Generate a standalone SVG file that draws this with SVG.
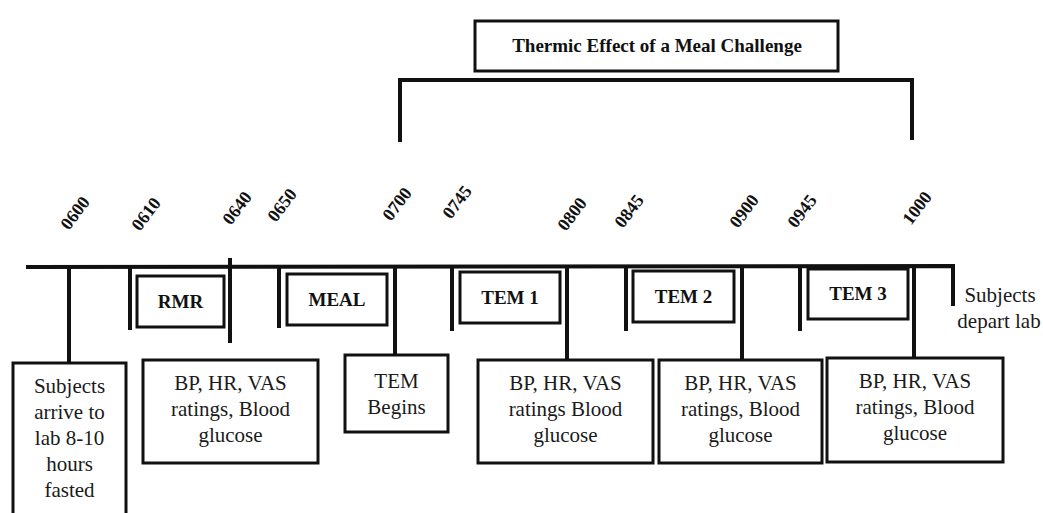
<svg xmlns="http://www.w3.org/2000/svg" width="1043" height="513" viewBox="0 0 1043 513">
<style>
.bx{fill:#fff;stroke:#111;stroke-width:3}
.ln{fill:none;stroke:#111;stroke-width:4}
text{font-family:'Liberation Serif','DejaVu Serif',serif}
.t{font-size:21px;fill:#1a1a1a;text-anchor:middle}
.b{font-weight:bold;font-size:19px;fill:#111;text-anchor:middle}
.tm{font-weight:bold;font-size:18px;fill:#111;text-anchor:middle}
</style>
<rect width="1043" height="513" fill="#fff"/>
<g id="title">
<rect class="bx" x="475" y="21" width="363" height="50"/>
<text class="b" x="657" y="52" font-size="21">Thermic Effect of a Meal Challenge</text>
</g>
<g id="connectors">
<polyline class="ln" points="400,142 400,80 912,80 912,140"/>
<polyline class="ln" points="26,267 953,266 953,306"/>
<line class="ln" x1="69" y1="267" x2="69" y2="363"/>
<line class="ln" x1="130" y1="267" x2="130" y2="330"/>
<line class="ln" x1="230" y1="258" x2="230" y2="343"/>
<line class="ln" x1="279" y1="267" x2="279" y2="328"/>
<line class="ln" x1="395" y1="267" x2="395" y2="355"/>
<line class="ln" x1="452" y1="267" x2="452" y2="331"/>
<line class="ln" x1="567" y1="267" x2="567" y2="360"/>
<line class="ln" x1="626" y1="267" x2="626" y2="331"/>
<line class="ln" x1="742" y1="267" x2="742" y2="360"/>
<line class="ln" x1="800" y1="267" x2="800" y2="331"/>
<line class="ln" x1="914" y1="267" x2="914" y2="358"/>
</g>
<g id="times">
<text class="tm" transform="translate(75,213) rotate(-53)" y="6">0600</text>
<text class="tm" transform="translate(146,214) rotate(-53)" y="6">0610</text>
<text class="tm" transform="translate(237,208) rotate(-53)" y="6">0640</text>
<text class="tm" transform="translate(282,205) rotate(-53)" y="6">0650</text>
<text class="tm" transform="translate(397,204) rotate(-53)" y="6">0700</text>
<text class="tm" transform="translate(457,202) rotate(-53)" y="6">0745</text>
<text class="tm" transform="translate(572,214) rotate(-53)" y="6">0800</text>
<text class="tm" transform="translate(629,211) rotate(-53)" y="6">0845</text>
<text class="tm" transform="translate(744,211) rotate(-53)" y="6">0900</text>
<text class="tm" transform="translate(802,211) rotate(-53)" y="6">0945</text>
<text class="tm" transform="translate(917,208) rotate(-53)" y="6">1000</text>
</g>
<g id="rmr">
<rect class="bx" x="137" y="276" width="87" height="51"/>
<text class="b" x="180.5" y="308">RMR</text>
</g>
<g id="meal">
<rect class="bx" x="287" y="274" width="100" height="51"/>
<text class="b" x="337" y="306">MEAL</text>
</g>
<g id="tem1">
<rect class="bx" x="460" y="272" width="100" height="51"/>
<text class="b" x="510" y="304">TEM 1</text>
</g>
<g id="tem2">
<rect class="bx" x="633" y="271" width="101" height="51"/>
<text class="b" x="683.5" y="303">TEM 2</text>
</g>
<g id="tem3">
<rect class="bx" x="808" y="269" width="100" height="50"/>
<text class="b" x="858" y="300">TEM 3</text>
</g>
<g id="depart">
<text class="t" x="1000" y="302">Subjects</text>
<text class="t" x="999" y="328">depart lab</text>
</g>
<g id="arrive">
<rect class="bx" x="13" y="363" width="113" height="160"/>
<text class="t" x="69.5" y="393">Subjects</text>
<text class="t" x="69.5" y="419">arrive to</text>
<text class="t" x="69.5" y="445">lab 8-10</text>
<text class="t" x="69.5" y="471">hours</text>
<text class="t" x="69.5" y="497">fasted</text>
</g>
<g id="bp1">
<rect class="bx" x="143" y="360" width="175" height="103"/>
<text class="t" x="230.5" y="390">BP, HR, VAS</text>
<text class="t" x="230.5" y="416">ratings, Blood</text>
<text class="t" x="230.5" y="442">glucose</text>
</g>
<g id="tembegins">
<rect class="bx" x="345" y="355" width="103" height="77"/>
<text class="t" x="396.5" y="388">TEM</text>
<text class="t" x="396.5" y="414">Begins</text>
</g>
<g id="bp2">
<rect class="bx" x="478" y="360" width="175" height="103"/>
<text class="t" x="565.5" y="390">BP, HR, VAS</text>
<text class="t" x="565.5" y="416">ratings Blood</text>
<text class="t" x="565.5" y="442">glucose</text>
</g>
<g id="bp3">
<rect class="bx" x="659" y="360" width="163" height="103"/>
<text class="t" x="740.5" y="390">BP, HR, VAS</text>
<text class="t" x="740.5" y="416">ratings, Blood</text>
<text class="t" x="740.5" y="442">glucose</text>
</g>
<g id="bp4">
<rect class="bx" x="827" y="358" width="176" height="104"/>
<text class="t" x="915" y="388">BP, HR, VAS</text>
<text class="t" x="915" y="414">ratings, Blood</text>
<text class="t" x="915" y="440">glucose</text>
</g>
</svg>
